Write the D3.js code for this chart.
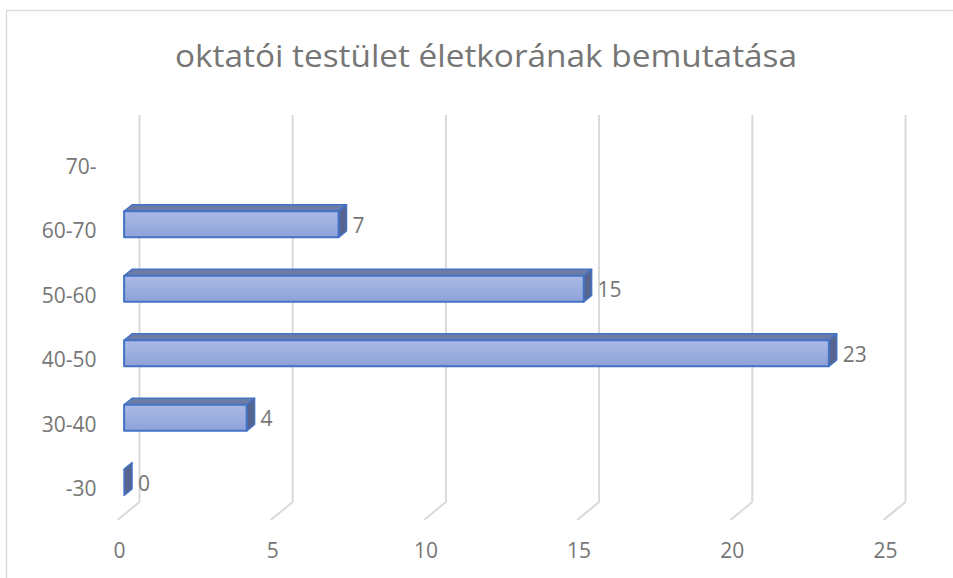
<!DOCTYPE html>
<html>
<head>
<meta charset="utf-8">
<script src="https://cdn.jsdelivr.net/npm/d3@7"></script>
<style>
  body { margin: 0; background: #fff; }
  svg { display: block; font-family: "Open Sans", "Liberation Sans", sans-serif; }
</style>
</head>
<body>
<div id="chart"></div>
<script>
// data
var categories = ["-30", "30-40", "40-50", "50-60", "60-70", "70-"];
var values = [0, 4, 23, 15, 7, null];
var xTicks = [0, 5, 10, 15, 20, 25];
var title = "oktatói testület életkorának bemutatása";

var width = 953, height = 578;
var textColor = "#767676", gridColor = "#d9d9d9";

// depth of the 3d box (back wall -> front floor)
var DX = -22, DY = 18;
var barBack = 0.34, barFront = 0.7;   // bar position inside depth
var barThick = 26;

var svg = d3.select("#chart").append("svg")
    .attr("width", width)
    .attr("height", height);

// frame
svg.append("rect")
    .attr("x", 6.5).attr("y", 10.5)
    .attr("width", 980).attr("height", 620)
    .attr("fill", "#fff")
    .attr("stroke", gridColor)
    .attr("stroke-width", 1.3);

// title
svg.append("text")
    .attr("x", 486).attr("y", 67)
    .attr("text-anchor", "middle")
    .attr("fill", textColor)
    .attr("font-size", 31)
    .attr("textLength", 622)
    .attr("lengthAdjust", "spacingAndGlyphs")
    .text(title);

// scales on the back wall
var x = d3.scaleLinear().domain([0, 25]).range([139.5, 905.5]);
var y = d3.scaleBand().domain(categories).range([502, 115]).padding(0);

function P(v, yy, d) {
  return [x(v) + d * DX, yy + d * DY];
}

// gradient for bar fronts
var defs = svg.append("defs");
var grad = defs.append("linearGradient").attr("id", "barGrad")
    .attr("x1", 0).attr("y1", 0).attr("x2", 0).attr("y2", 1);
grad.append("stop").attr("offset", "0%").attr("stop-color", "#aab9e6");
grad.append("stop").attr("offset", "100%").attr("stop-color", "#8ea2d9");

// gridlines: back wall + floor
var grid = svg.append("g");
xTicks.forEach(function(t) {
  grid.append("line")
    .attr("x1", x(t)).attr("x2", x(t))
    .attr("y1", y.range()[1]).attr("y2", y.range()[0])
    .attr("stroke", gridColor).attr("stroke-width", 2);
  var a = P(t, y.range()[0], 0), b = P(t, y.range()[0], 1);
  grid.append("line")
    .attr("x1", a[0]).attr("y1", a[1])
    .attr("x2", b[0]).attr("y2", b[1])
    .attr("stroke", gridColor).attr("stroke-width", 2);
});

// x tick labels (front)
svg.append("g").selectAll("text")
  .data(xTicks)
  .enter().append("text")
    .attr("x", function(d) { return P(d, 0, 1)[0] + 2; })
    .attr("y", y.range()[0] + DY + 31)
    .attr("dy", "0.35em")
    .attr("text-anchor", "middle")
    .attr("fill", textColor)
    .attr("font-size", 21)
    .text(function(d) { return d; });

// category labels
svg.append("g").selectAll("text")
  .data(categories)
  .enter().append("text")
    .attr("x", P(0, 0, 1)[0] - 21)
    .attr("y", function(d) { return y(d) + y.bandwidth() / 2 + DY + 1; })
    .attr("dy", "0.35em")
    .attr("text-anchor", "end")
    .attr("fill", textColor)
    .attr("font-size", 21)
    .text(function(d) { return d; });

// bars
var bars = categories.map(function(c, i) { return { cat: c, v: values[i] }; })
  .filter(function(d) { return d.v !== null; });

function poly(pts) {
  return "M" + pts.map(function(p) { return p.join(","); }).join("L") + "Z";
}

var barG = svg.append("g");
bars.forEach(function(d) {
  var cy = y(d.cat) + y.bandwidth() / 2;
  var t = cy - barThick / 2, b = cy + barThick / 2;
  var ftl = P(0, t, barFront), ftr = P(d.v, t, barFront),
      fbr = P(d.v, b, barFront), fbl = P(0, b, barFront);
  var btl = P(0, t, barBack), btr = P(d.v, t, barBack),
      bbr = P(d.v, b, barBack);

  // top face
  barG.append("path")
    .attr("d", poly([ftl, btl, btr, ftr]))
    .attr("fill", "#6d7ca6")
    .attr("stroke", "#4472c4").attr("stroke-width", 1.5)
    .attr("stroke-linejoin", "round");
  // side face
  barG.append("path")
    .attr("d", poly([ftr, btr, bbr, fbr]))
    .attr("fill", "#56648f")
    .attr("stroke", "#4472c4").attr("stroke-width", 1.5)
    .attr("stroke-linejoin", "round");
  // front face
  if (d.v > 0) {
    barG.append("path")
      .attr("d", poly([ftl, ftr, fbr, fbl]))
      .attr("fill", "url(#barGrad)")
      .attr("stroke", "#4472c4").attr("stroke-width", 2)
      .attr("stroke-linejoin", "round");
  }

  // value label
  svg.append("text")
    .attr("x", btr[0] + 6)
    .attr("y", cy + barFront * DY + 1)
    .attr("dy", "0.35em")
    .attr("fill", textColor)
    .attr("font-size", 21)
    .text(d.v);
});
</script>
</body>
</html>
